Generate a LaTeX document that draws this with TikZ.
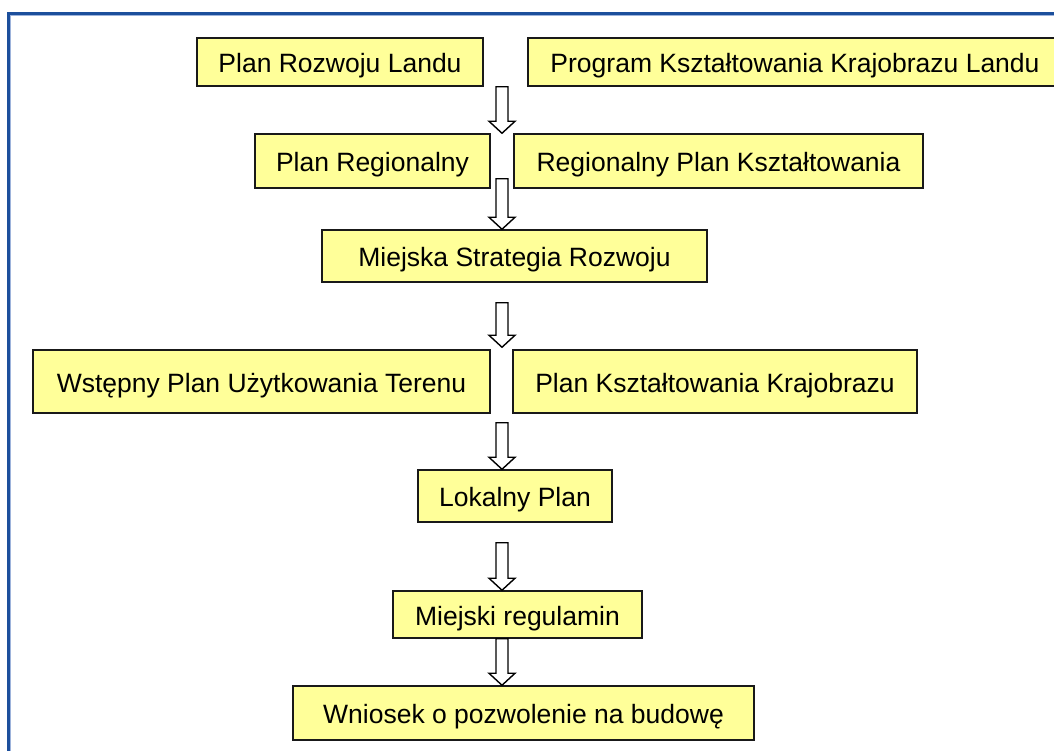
\documentclass[tikz,border=0pt]{standalone}
\usepackage{fontspec}
\setmainfont{Liberation Sans}
\usepackage{xcolor}
\usepackage{tikz}
\definecolor{boxfill}{HTML}{FFFF99}
\definecolor{frameblue}{HTML}{1C4F9C}
\definecolor{framelight}{HTML}{9DB3DB}
\newcommand{\hollowarrow}[2]{%
  \draw[hollow] ([xshift=-6pt]#1) -- ([xshift=-6pt,yshift=12pt]#2)
    -- ([xshift=-13pt,yshift=12pt]#2) -- (#2)
    -- ([xshift=13pt,yshift=12pt]#2) -- ([xshift=6pt,yshift=12pt]#2)
    -- ([xshift=6pt]#1) -- cycle;}

\begin{document}
\begin{tikzpicture}[x=1pt,y=-1pt,
    stage/.style={draw=black!90,line width=1.5pt,fill=boxfill,inner sep=0pt,
      text height=21pt,text depth=0pt,
      font=\fontsize{26.5}{30}\selectfont},
    hollow/.style={draw=black,line width=1.4pt,fill=white,line join=miter}]
    \useasboundingbox (0,0) rectangle (1054,751);
    % frame
    \draw[frameblue,line width=3pt] (8.5,13.5) rectangle (1080,780);
    \draw[framelight,line width=1pt] (10.8,15.8) rectangle (1080,780);
    % boxes
    \node[stage,minimum width=286,minimum height=48] (rozwoj) at (340,62) {Plan Rozwoju Landu};
    \node[stage,minimum width=534,minimum height=48] (program) at (795,62) {Program Kształtowania Krajobrazu Landu};
    \node[stage,minimum width=235,minimum height=54] (regional) at (372.5,161) {Plan Regionalny};
    \node[stage,minimum width=409,minimum height=54] (regkszt) at (718.5,161) {Regionalny Plan Kształtowania};
    \node[stage,minimum width=385,minimum height=52] (strategia) at (514.5,256) {Miejska Strategia Rozwoju};
    \node[stage,minimum width=457,minimum height=63] (wstepny) at (261.5,381.5) {Wstępny Plan Użytkowania Terenu};
    \node[stage,minimum width=404,minimum height=63] (krajobraz) at (715,381.5) {Plan Kształtowania Krajobrazu};
    \node[stage,minimum width=194,minimum height=52] (lokalny) at (515,496) {Lokalny Plan};
    \node[stage,minimum width=249,minimum height=47] (regulamin) at (517.5,614.5) {Miejski regulamin};
    \node[stage,minimum width=461,minimum height=54] (wniosek) at (523.5,713) {Wniosek o pozwolenie na budowę};
    % arrows
    \coordinate (ax) at (502,0);
    \coordinate (a1s) at (ax |- rozwoj.south);
    \coordinate (a1e) at (ax |- regional.north);
    \coordinate (a2s) at ([yshift=10pt]ax |- regional.south);
    \coordinate (a2e) at (ax |- strategia.north);
    \coordinate (a3s) at ([yshift=-20pt]ax |- strategia.south);
    \coordinate (a3e) at ([yshift=2pt]ax |- wstepny.north);
    \coordinate (a4s) at ([yshift=-9pt]ax |- wstepny.south);
    \coordinate (a4e) at (ax |- lokalny.north);
    \coordinate (a5s) at ([yshift=-20pt]ax |- lokalny.south);
    \coordinate (a5e) at (ax |- regulamin.north);
    \coordinate (a6s) at (ax |- regulamin.south);
    \coordinate (a6e) at (ax |- wniosek.north);
    \foreach \i in {1,...,6} {
      \hollowarrow{a\i s}{a\i e}
    }
  \end{tikzpicture}
\end{document}
